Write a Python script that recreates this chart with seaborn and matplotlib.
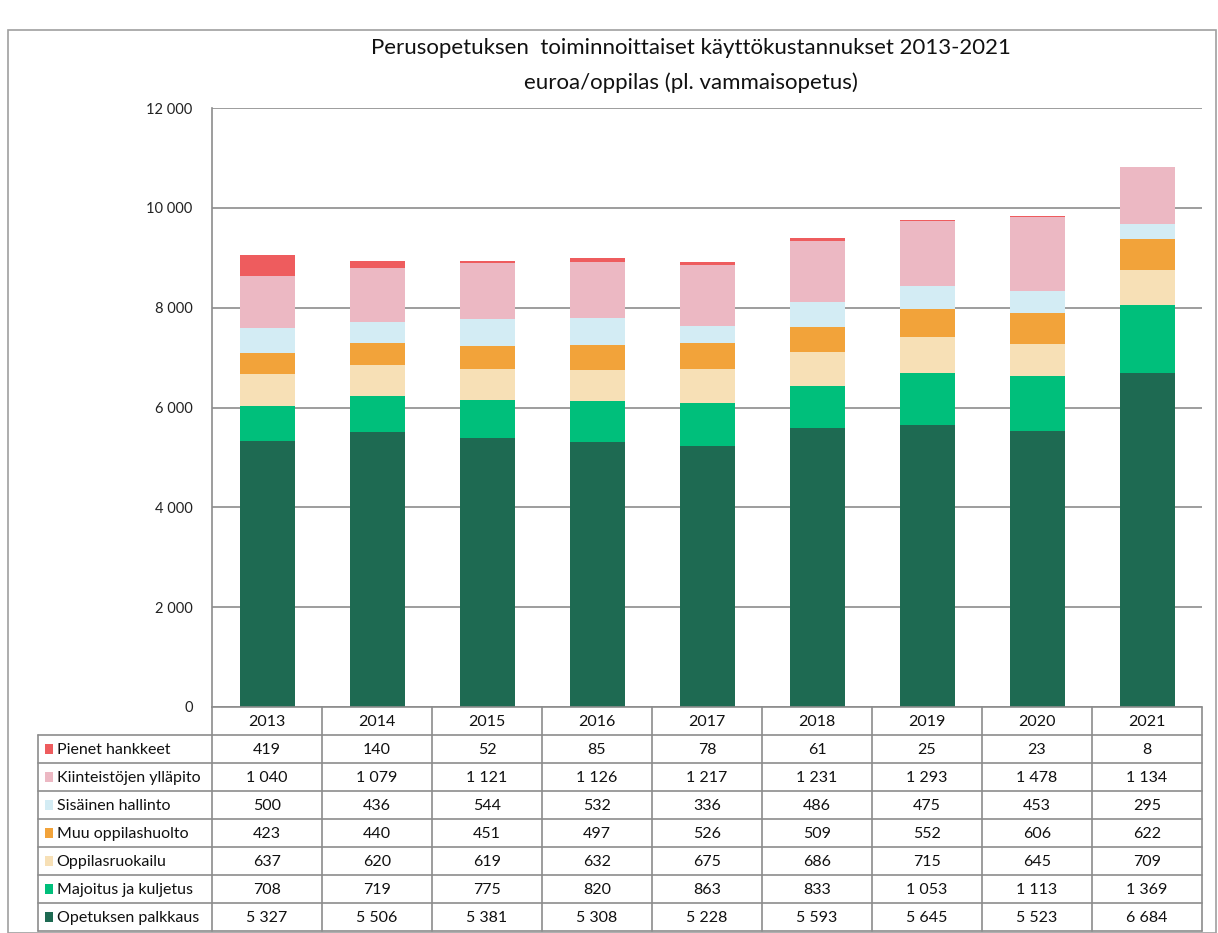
import matplotlib
matplotlib.use("Agg")
import matplotlib.pyplot as plt
import seaborn as sns
import numpy as np
from matplotlib.patches import Rectangle

years = ["2013", "2014", "2015", "2016", "2017", "2018", "2019", "2020", "2021"]
opetuksen_palkkaus = [5327, 5506, 5381, 5308, 5228, 5593, 5645, 5523, 6684]
majoitus_ja_kuljetus = [708, 719, 775, 820, 863, 833, 1053, 1113, 1369]
oppilasruokailu = [637, 620, 619, 632, 675, 686, 715, 645, 709]
muu_oppilashuolto = [423, 440, 451, 497, 526, 509, 552, 606, 622]
sisainen_hallinto = [500, 436, 544, 532, 336, 486, 475, 453, 295]
kiinteistojen_yllapito = [1040, 1079, 1121, 1126, 1217, 1231, 1293, 1478, 1134]
pienet_hankkeet = [419, 140, 52, 85, 78, 61, 25, 23, 8]

series_names = ["Opetuksen palkkaus", "Majoitus ja kuljetus", "Oppilasruokailu",
                "Muu oppilashuolto", "Sisäinen hallinto", "Kiinteistöjen ylläpito",
                "Pienet hankkeet"]
series_values = [opetuksen_palkkaus, majoitus_ja_kuljetus, oppilasruokailu,
                 muu_oppilashuolto, sisainen_hallinto, kiinteistojen_yllapito,
                 pienet_hankkeet]
colors = ["#1E6A52", "#00BF7B", "#F7E0B6", "#F2A33A", "#D3ECF4", "#ECB8C3", "#EE5C5E"]

sns.set_theme(style="white")
plt.rcParams["font.family"] = ["Lato", "DejaVu Sans"]

W, H = 1218, 933
fig = plt.figure(figsize=(W / 100, H / 100), dpi=100)

# outer border
fig.patches.append(Rectangle((8 / W, 0), (W - 10) / W, (H - 30) / H, transform=fig.transFigure,
                             fill=False, edgecolor="#A0A0A0", linewidth=1.2))

ax_l, ax_r, ax_t, ax_b = 212, 1202, 108, 707
ax = fig.add_axes([ax_l / W, 1 - ax_b / H, (ax_r - ax_l) / W, (ax_b - ax_t) / H])

bottom = np.zeros(len(years))
for name, vals, col in zip(series_names, series_values, colors):
    sns.barplot(x=years, y=vals, bottom=bottom, color=col, width=0.5, ax=ax,
                saturation=1, linewidth=0, label=name, zorder=3)
    bottom = bottom + np.array(vals)

ax.set_xlim(-0.5, len(years) - 0.5)
ax.set_ylim(0, 12000)
ax.set_yticks(np.arange(0, 12001, 2000))
ax.set_yticklabels([f"{v:,}".replace(",", " ") for v in range(0, 12001, 2000)],
                   fontsize=10.5, color="#222222")
ax.set_xticks([])
ax.set_xlabel("")
ax.set_ylabel("")
ax.yaxis.grid(True, color="#8C8C8C", linewidth=1.2, zorder=0)
ax.xaxis.grid(False)
for s in ["top", "right", "bottom"]:
    ax.spines[s].set_visible(False)
ax.spines["left"].set_color("#8C8C8C")
ax.spines["left"].set_linewidth(1.2)
ax.tick_params(axis="y", length=0, pad=14)
legend = ax.get_legend()
if legend is not None:
    legend.remove()

tx = 691 / W
fig.text(tx, 1 - 48 / H, "Perusopetuksen  toiminnoittaiset käyttökustannukset 2013-2021",
         ha="center", va="center", fontsize=16, color="#111111")
fig.text(tx, 1 - 83 / H, "euroa/oppilas (pl. vammaisopetus)",
         ha="center", va="center", fontsize=16, color="#111111")

# data table
tab_left = 38
tab_bottom = 931
unit = (ax_r - ax_l) / len(years)
extra = (ax_l - tab_left) / unit
tax = fig.add_axes([tab_left / W, 1 - tab_bottom / H, (ax_r - tab_left) / W, (tab_bottom - ax_b) / H])
n_rows = len(series_names) + 1
tax.set_xlim(-0.5 - extra, len(years) - 0.5)
tax.set_ylim(n_rows, 0)
tax.axis("off")
lc = "#8C8C8C"
lw = 1.2
tax.plot([-0.5, len(years) - 0.5], [0, 0], color=lc, lw=lw, clip_on=False)
for r in range(1, n_rows + 1):
    tax.plot([-0.5 - extra, len(years) - 0.5], [r, r], color=lc, lw=lw, clip_on=False)
tax.plot([-0.5 - extra] * 2, [1, n_rows], color=lc, lw=lw, clip_on=False)
for c in range(len(years) + 1):
    tax.plot([c - 0.5] * 2, [0, n_rows], color=lc, lw=lw, clip_on=False)
for i, y in enumerate(years):
    tax.text(i, 0.52, y, ha="center", va="center", fontsize=11.5, color="#111111")
rev_names = series_names[::-1]
rev_vals = series_values[::-1]
rev_cols = colors[::-1]
for r, (name, vals, col) in enumerate(zip(rev_names, rev_vals, rev_cols), start=1):
    tax.add_patch(Rectangle((-0.5 - extra + 0.06, r + 0.32), 0.075, 0.36, color=col, lw=0))
    tax.text(-0.5 - extra + 0.17, r + 0.52, name, ha="left", va="center", fontsize=11.5,
             color="#111111")
    for i, v in enumerate(vals):
        tax.text(i, r + 0.52, f"{v:,}".replace(",", " "), ha="center", va="center",
                 fontsize=11.5, color="#111111")

fig.savefig("out.png", dpi=100)
